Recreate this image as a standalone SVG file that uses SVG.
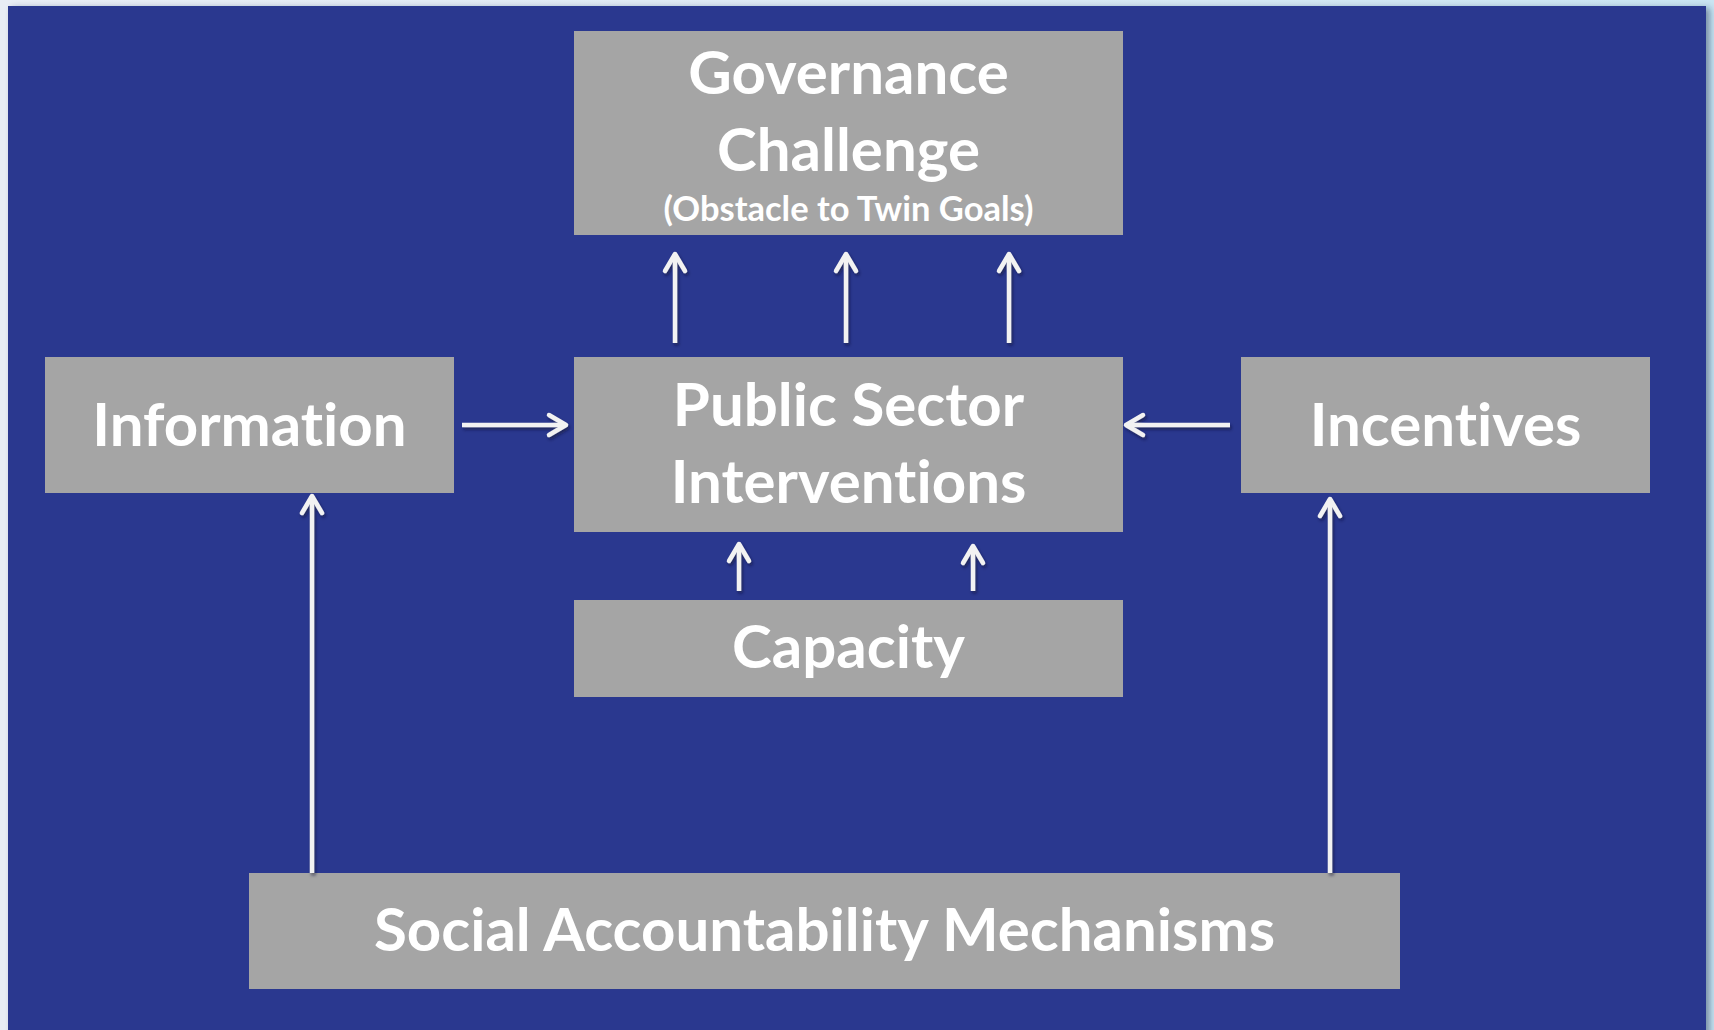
<svg xmlns="http://www.w3.org/2000/svg" width="1714" height="1030" viewBox="0 0 1714 1030">
  <defs>
    <linearGradient id="bg" x1="0" y1="0" x2="1" y2="0">
      <stop offset="0" stop-color="#E8EDF5"/>
      <stop offset="0.5" stop-color="#DCE9F4"/>
      <stop offset="1" stop-color="#C9E4F2"/>
    </linearGradient>
    <filter id="panelShadow" x="-5%" y="-5%" width="110%" height="110%">
      <feDropShadow dx="4" dy="2" stdDeviation="3" flood-color="#1a2a50" flood-opacity="0.45"/>
    </filter>
    <filter id="arrowShadow" x="-50%" y="-50%" width="200%" height="200%">
      <feDropShadow dx="1.5" dy="2.5" stdDeviation="1.8" flood-color="#0a0f30" flood-opacity="0.55"/>
    </filter>
    <marker id="head" viewBox="-24 -16 30 32" refX="0" refY="0" markerWidth="30" markerHeight="32" markerUnits="userSpaceOnUse" orient="auto">
      <path d="M -17 -10 L 0 0 L -17 10" fill="none" stroke="#F2F2F2" stroke-width="4.5" stroke-linecap="round" stroke-linejoin="round"/>
    </marker>
  </defs>
  <style>
    .box { fill: #A5A5A5; }
    .lbl { font-family: Lato, "Open Sans", "Liberation Sans", sans-serif; font-weight: bold; fill: #FFFFFF; text-anchor: middle; font-variant-ligatures: none; }
    .big { font-size: 60px; }
    .small { font-size: 34.5px; }
    .conn { stroke: #F2F2F2; stroke-width: 4.5; fill: none; marker-end: url(#head); }
  </style>

  <rect x="0" y="0" width="1714" height="1030" fill="url(#bg)"/>
  <rect id="panel" x="8" y="6" width="1698" height="1030" fill="#2C398F" filter="url(#panelShadow)"/>

  <g id="governance">
    <rect class="box" x="574" y="31" width="549" height="204"/>
    <text class="lbl big" x="848.5" y="94">Governance</text>
    <text class="lbl big" x="848.5" y="171">Challenge</text>
    <text class="lbl small" x="848.5" y="221">(Obstacle to Twin Goals)</text>
  </g>

  <g id="information">
    <rect class="box" x="45" y="357" width="409" height="136"/>
    <text class="lbl big" x="249.5" y="446">Information</text>
  </g>

  <g id="public-sector">
    <rect class="box" x="574" y="357" width="549" height="175"/>
    <text class="lbl big" x="848.5" y="426">Public Sector</text>
    <text class="lbl big" x="848.5" y="503">Interventions</text>
  </g>

  <g id="incentives">
    <rect class="box" x="1241" y="357" width="409" height="136"/>
    <text class="lbl big" x="1445.5" y="446">Incentives</text>
  </g>

  <g id="capacity">
    <rect class="box" x="574" y="600" width="549" height="97"/>
    <text class="lbl big" x="848.5" y="668">Capacity</text>
  </g>

  <g id="social">
    <rect class="box" x="249" y="873" width="1151" height="116"/>
    <text class="lbl big" x="824.5" y="951">Social Accountability Mechanisms</text>
  </g>

  <g id="connectors" filter="url(#arrowShadow)">
    <line class="conn" x1="675" y1="343" x2="675" y2="254"/>
    <line class="conn" x1="846" y1="343" x2="846" y2="254"/>
    <line class="conn" x1="1009" y1="343" x2="1009" y2="254"/>
    <line class="conn" x1="462" y1="425" x2="566" y2="425"/>
    <line class="conn" x1="1230" y1="425" x2="1126" y2="425"/>
    <line class="conn" x1="739" y1="591" x2="739" y2="544"/>
    <line class="conn" x1="973" y1="591" x2="973" y2="546"/>
    <line class="conn" x1="312" y1="873" x2="312" y2="496"/>
    <line class="conn" x1="1330" y1="873" x2="1330" y2="499"/>
  </g>
</svg>
